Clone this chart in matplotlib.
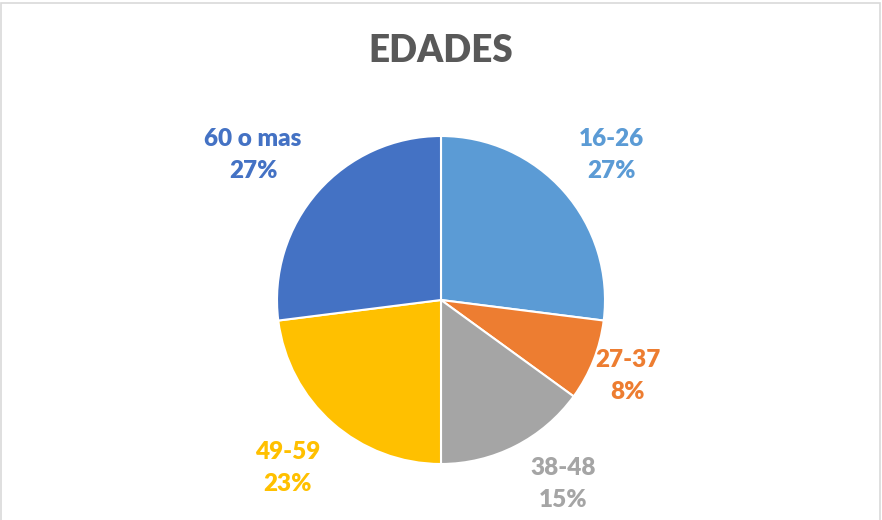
import matplotlib.pyplot as plt
from matplotlib.patches import Rectangle

# datos
labels = ["16-26", "27-37", "38-48", "49-59", "60 o mas"]
values = [27, 8, 15, 23, 27]
colors = ["#5B9BD5", "#ED7D31", "#A5A5A5", "#FFC000", "#4472C4"]
title = "EDADES"

# posiciones de las etiquetas (coordenadas del pie, radio 1)
label_pos = [(1.037, 0.884), (1.140, -0.463), (0.744, -1.122),
             (-0.933, -1.024), (-1.146, 0.884)]

plt.rcParams['font.family'] = ['Lato', 'DejaVu Sans']

fig = plt.figure(figsize=(8.82, 5.2), dpi=100)
fig.patch.set_facecolor("white")

# borde del área del gráfico
fig.patches.append(Rectangle((1/882, -0.05), 879/882, 1.05 - 3/520,
                             transform=fig.transFigure, fill=False,
                             edgecolor="#d9d9d9", linewidth=1.2))

cx, cy, r = 441, 300, 164
ax = fig.add_axes([(cx - r)/882, (520 - cy - r)/520, 2*r/882, 2*r/520])
ax.pie(values, colors=colors, startangle=90, counterclock=False,
       radius=1, wedgeprops=dict(edgecolor="white", linewidth=1.5))
ax.set_xlim(-1, 1)
ax.set_ylim(-1, 1)
ax.set_aspect("auto")
ax.axis("off")

total = sum(values)
for lab, v, c, (x, y) in zip(labels, values, colors, label_pos):
    pct = round(100*v/total)
    ax.text(x, y, f"{lab}\n{pct}%", color=c, fontsize=17.5, fontweight="heavy",
            ha="center", va="center", linespacing=1.6, clip_on=False)

fig.text(0.5, 1 - 51/520, title, ha="center", va="center", fontsize=26.5,
         fontweight="heavy", color="#595959")

fig.savefig("out.png", dpi=100)
